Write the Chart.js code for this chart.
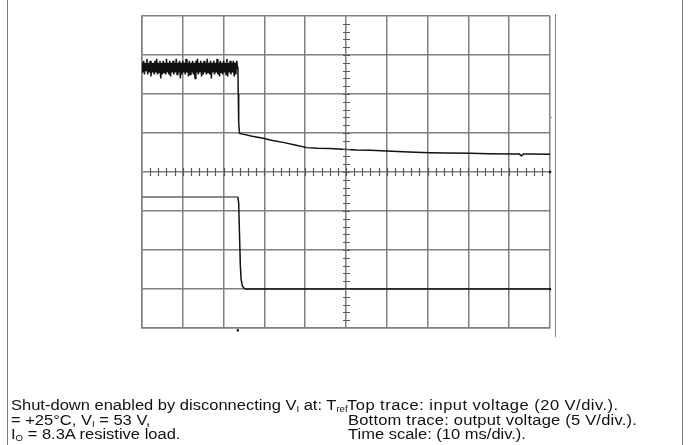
<!DOCTYPE html>
<html>
<head>
<meta charset="utf-8">
<script src="https://cdn.jsdelivr.net/npm/chart.js@4.4.1/dist/chart.umd.min.js"></script>
<style>
  html, body { margin: 0; padding: 0; background: #fff; }
  #page { position: relative; width: 688px; height: 445px; overflow: hidden; background: #fff; }
  #wrap { position: absolute; left: 0; top: 0; width: 688px; height: 445px; }
  .frame { position: absolute; top: 0; width: 1px; height: 445px; background: #7a7a7a; }
  #redline { position: absolute; left: 555px; top: 14px; width: 1px; height: 323px; background: #e05a5a; }
  .cap { position: absolute; font-family: "Liberation Sans", Arial, Helvetica, sans-serif; font-size: 15.5px; color: #111; white-space: nowrap; transform-origin: 0 0; transform: scaleX(1.065); line-height: 15px; }
  .cap sub { font-size: 9px; vertical-align: -2px; line-height: 0; }
</style>
</head>
<body>
<div id="page">
  <div class="frame" style="left:7px"></div>
  <div class="frame" style="left:682px"></div>
  <div id="wrap"><canvas id="c"></canvas></div>
  <div id="redline"></div>
  <div class="cap" style="left:11px; top:397px;">Shut-down enabled by disconnecting V<sub>I</sub> at: T<sub>ref</sub></div>
  <div class="cap" style="left:11px; top:412px;">= +25°C, V<sub>I</sub> = 53 V,</div>
  <div class="cap" style="left:11px; top:426px;">I<sub>O</sub> = 8.3A resistive load.</div>
  <div class="cap" style="left:347px; top:397px; letter-spacing:0.45px;">Top trace: input voltage (20 V/div.).</div>
  <div class="cap" style="left:348px; top:412px; letter-spacing:0.2px;">Bottom trace: output voltage (5 V/div.).</div>
  <div class="cap" style="left:348px; top:426px;">Time scale: (10 ms/div.).</div>
</div>
<script>
// Time axis (ms), 10 ms/div, 10 divisions
const timeMin = 0;
const timeMax = 100;
const timeStep = 10;

// Input voltage axis (V), 20 V/div, ground at centre line
const inMin = -80;
const inMax = 80;
const inStep = 20;

// Output voltage axis (V), 5 V/div, ground 3 divisions below centre
const outMin = -5;
const outMax = 35;

// Top trace, before disconnect: noisy input voltage (V) vs time (ms)
const noiseTime = [
  0,0.2,0.4,0.6,0.8,1,1.2,1.4,1.6,1.8,
  2,2.2,2.4,2.6,2.8,3,3.2,3.4,3.6,3.8,
  4,4.2,4.4,4.6,4.8,5,5.2,5.4,5.6,5.8,
  6,6.2,6.4,6.6,6.8,7,7.2,7.4,7.6,7.8,
  8,8.2,8.4,8.6,8.8,9,9.2,9.4,9.6,9.8,
  10,10.2,10.4,10.6,10.8,11,11.2,11.4,11.6,11.8,
  12,12.2,12.4,12.6,12.8,13,13.2,13.4,13.6,13.8,
  14,14.2,14.4,14.6,14.8,15,15.2,15.4,15.6,15.8,
  16,16.2,16.4,16.6,16.8,17,17.2,17.4,17.6,17.8,
  18,18.2,18.4,18.6,18.8,19,19.2,19.4,19.6,19.8,
  20,20.2,20.4,20.6,20.8,21,21.2,21.4,21.6,21.8,
  22,22.2,22.4,22.6,22.8,23,23.2,23.4
];
const noiseVolts = [
  56,51,57,50,56,52,58,50,56,51,
  57,49,56,51,56,50,57,51,58,50,
  56,51,57,48,56,50,57,51,56,50,
  58,51,56,50,57,49,56,51,57,50,
  56,51,58,50,56,51,57,48,56,50,
  57,51,56,50,58,51,56,49,57,50,
  56,51,57,50,56,48,57,51,58,50,
  56,51,57,49,56,50,57,51,56,50,
  58,51,56,50,57,48,56,51,57,50,
  56,51,58,50,56,49,57,51,56,50,
  57,51,56,50,58,49,56,51,57,50,
  56,51,57,49,56,50,57,54
];

// Top trace, after disconnect: input voltage (V) vs time (ms)
const decayTime = [
  23.5,23.6,23.7,23.9,25,27,29.7,32,34.6,37.5,
  40.4,43,46.1,49,52.6,56,60,64,67,70.6,
  75,80.4,85,91,92.5,93,93.5,95,100
];
const decayVolts = [
  53,40,25,19.8,19.3,18.3,17.3,16.2,15.2,13.8,
  12.5,12.2,12.0,11.7,11.3,11.1,10.8,10.4,10.1,9.9,
  9.7,9.6,9.4,9.2,9.2,8.3,9.2,9.2,9.1
];

// Bottom trace: output voltage (V) vs time (ms)
const outputTime  = [0, 23.5, 23.7, 23.9, 24.1, 24.3, 24.6, 25.0, 25.4, 100];
const outputVolts = [11.8, 11.8, 11.0, 7.0, 3.0, 1.2, 0.4, 0.1, 0, 0];

// Trigger instant (ms)
const triggerTime = 23.5;

const inputData = noiseTime.map((t, i) => ({ x: t, y: noiseVolts[i] }))
  .concat(decayTime.map((t, i) => ({ x: t, y: decayVolts[i] })));
const outputData = outputTime.map((t, i) => ({ x: t, y: outputVolts[i] }));

// Small graticule ticks (0.2 div) along the centre lines, placed with the chart scales
const centreTicks = {
  id: 'centreTicks',
  afterDatasetsDraw(chart) {
    const { ctx, scales } = chart;
    const xs = scales.x, ys = scales.y;
    const cx = Math.round(xs.getPixelForValue((timeMin + timeMax) / 2));
    const cy = Math.round(ys.getPixelForValue((inMin + inMax) / 2));
    ctx.save();
    ctx.strokeStyle = '#5a5a5a';
    ctx.lineWidth = 1.2;
    ctx.beginPath();
    const xMinor = timeStep / 5;
    for (let k = 1; k < (timeMax - timeMin) / xMinor; k++) {
      const px = Math.round(xs.getPixelForValue(timeMin + k * xMinor)) + 0.5;
      ctx.moveTo(px, cy - 4);
      ctx.lineTo(px, cy + 4);
    }
    const yMinor = inStep / 5;
    for (let k = 1; k < (inMax - inMin) / yMinor; k++) {
      const py = Math.round(ys.getPixelForValue(inMin + k * yMinor)) + 0.5;
      ctx.moveTo(cx - 3, py);
      ctx.lineTo(cx + 4, py);
    }
    ctx.stroke();
    ctx.restore();
  }
};

const marker = (color, r) => ({
  showLine: false, pointStyle: 'rect', pointRadius: r,
  backgroundColor: color, borderColor: color, borderWidth: 0, clip: false
});

new Chart(document.getElementById('c'), {
  type: 'line',
  data: {
    datasets: [
      {
        label: 'Input voltage',
        data: inputData,
        yAxisID: 'y',
        borderColor: '#111',
        borderWidth: 1.5,
        pointRadius: 0,
        tension: 0,
        fill: false
      },
      {
        label: 'Output voltage',
        data: outputData,
        yAxisID: 'y2',
        borderColor: '#111',
        borderWidth: 1.5,
        pointRadius: 0,
        tension: 0,
        fill: false,
        segment: {
          borderColor: ctx => ctx.p1.parsed.x <= triggerTime ? '#666' : '#111'
        }
      },
      Object.assign({ label: 'Input ground', data: [{ x: timeMax, y: 0 }], yAxisID: 'y' }, marker('#111', 1.6)),
      Object.assign({ label: 'Output ground', data: [{ x: timeMax, y: 0 }], yAxisID: 'y2' }, marker('#111', 1.6)),
      Object.assign({ label: 'Trigger', data: [{ x: triggerTime, y: inMin - 1.2 }], yAxisID: 'y' }, marker('#111', 1.6)),
      Object.assign({ label: 'Input position', data: [{ x: timeMin - 1, y: 28 }, { x: timeMax + 0.3, y: 28 }], yAxisID: 'y' }, marker('#999', 1))
    ]
  },
  options: {
    responsive: true,
    maintainAspectRatio: false,
    animation: false,
    events: [],
    layout: { padding: { left: 142, top: 16, right: 138, bottom: 117 } },
    plugins: { legend: { display: false }, tooltip: { enabled: false } },
    scales: {
      x: {
        type: 'linear',
        min: timeMin,
        max: timeMax,
        ticks: { display: false, stepSize: timeStep },
        grid: { color: '#808080', lineWidth: 1.5, drawTicks: false },
        border: { display: true, color: '#808080', width: 1.5 }
      },
      y: {
        type: 'linear',
        min: inMin,
        max: inMax,
        ticks: { display: false, stepSize: inStep },
        grid: { color: '#808080', lineWidth: 1.5, drawTicks: false },
        border: { display: true, color: '#808080', width: 1.5 }
      },
      y2: {
        type: 'linear',
        display: false,
        min: outMin,
        max: outMax
      }
    }
  },
  plugins: [centreTicks]
});
</script>
</body>
</html>
